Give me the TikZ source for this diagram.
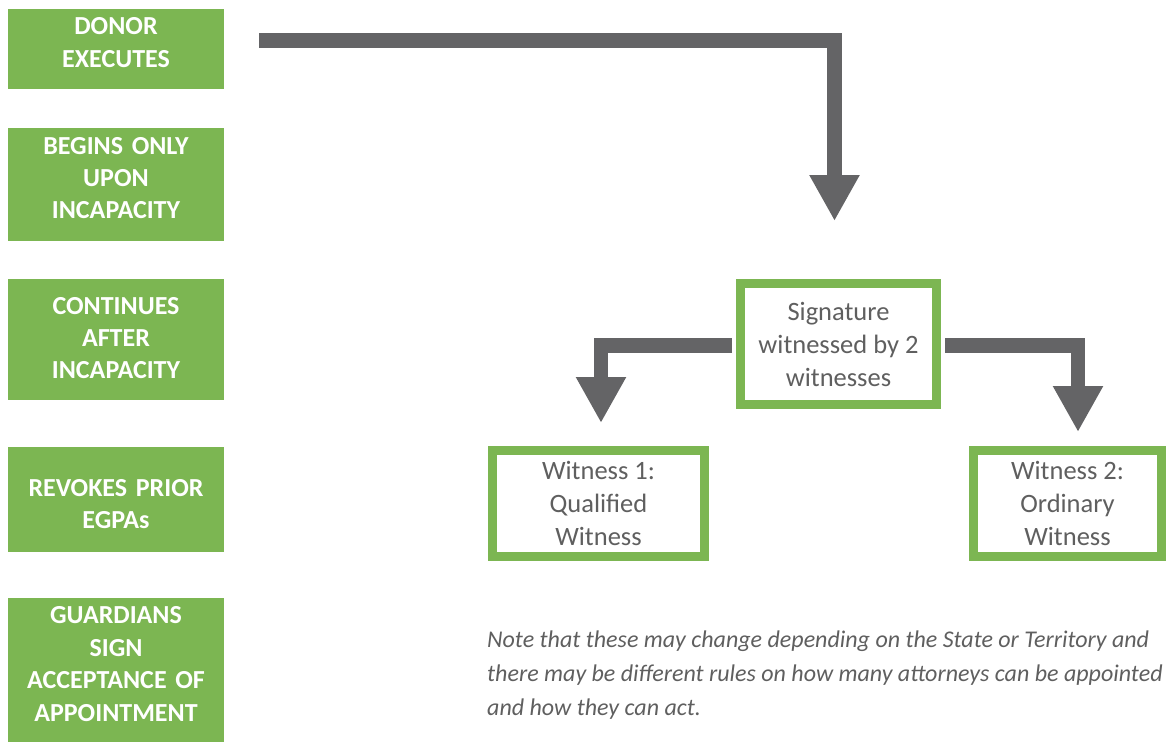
\documentclass[tikz,border=0pt]{standalone}
\usepackage{fontspec}
\setmainfont{Carlito}
\usetikzlibrary{arrows.meta,positioning}
\definecolor{leafgreen}{RGB}{124,182,82}
\definecolor{arrowgray}{RGB}{100,100,102}
\definecolor{textgray}{RGB}{95,95,95}
\tikzset{
  stepbox/.style={fill=leafgreen, draw=none, minimum width=216pt, inner sep=0pt},
  steptext/.style={text width=212pt, align=center, text=white,
    font=\fontsize{26}{32.4}\selectfont\bfseries, inner sep=0pt},
  witnessbox/.style={draw=leafgreen, line width=9pt, fill=white, align=center, text=textgray,
    font=\fontsize{26.5}{33}\selectfont, inner sep=0pt},
  bigarrow/.style={draw=arrowgray, line width=14.5pt,
    -{Triangle[width=47pt,length=46pt]}, line join=miter},
  notetext/.style={text=textgray, font=\fontsize{24}{34}\selectfont\itshape, align=left,
    anchor=north west, inner sep=0pt}
}
\begin{document}
\begin{tikzpicture}[x=1pt,y=-1pt]
\useasboundingbox (0,0) rectangle (1174,742);

% left column of steps: green panels, then their captions
\node[stepbox, minimum height=80pt]  (donor)  at (116,49)    {};
\node[stepbox, minimum height=113pt] (begins) at (116,184.5) {};
\node[stepbox, minimum height=121pt] (cont)   at (116,339.5) {};
\node[stepbox, minimum height=105pt] (revok)  at (116,499.5) {};
\node[stepbox, minimum height=144pt] (guard)  at (116,670)   {};

\node[steptext] (donortxt)  at ([yshift=6.5pt]donor.center)  {DONOR\\EXECUTES};
\node[steptext] (beginstxt) at ([yshift=6.5pt]begins.center) {BEGINS ONLY\\UPON\\INCAPACITY};
\node[steptext] (conttxt)   at ([yshift=1.5pt]cont.center)   {CONTINUES\\AFTER\\INCAPACITY};
\node[steptext] (revoktxt)  at ([yshift=-4.5pt]revok.center) {REVOKES PRIOR\\EGPAs};
\node[steptext] (guardtxt)  at ([yshift=6pt]guard.center)    {GUARDIANS\\SIGN\\ACCEPTANCE OF\\APPOINTMENT};

% witnessing boxes
\node[witnessbox, minimum width=196pt, minimum height=121pt] (sig) at (838.5,344)
  {Signature\\witnessed by 2\\witnesses};
\node[witnessbox, minimum width=212pt, minimum height=106pt] (w1) at (598.5,503.5)
  {Witness 1:\\Qualified\\Witness};
\node[witnessbox, minimum width=188pt, minimum height=106pt] (w2) at (1067.5,503.5)
  {Witness 2:\\Ordinary\\Witness};

% connectors
\coordinate (donorout) at (259,40.5);
\draw[bigarrow, shorten >=58pt] (donorout) -| ([xshift=-4pt]sig.north);
\draw[bigarrow, shorten >=23pt] ([xshift=-4pt,yshift=-1.5pt]sig.west) -| ([xshift=2.5pt]w1.north);
\draw[bigarrow, shorten >=14pt] ([xshift=4pt,yshift=-1.5pt]sig.east) -| ([xshift=10.5pt]w2.north);

% note
\node[notetext] (note) at (487,630.5)
  {Note that these may change depending on the State or Territory and\\
   there may be different rules on how many attorneys can be appointed\\
   and how they can act.};
\end{tikzpicture}
\end{document}
